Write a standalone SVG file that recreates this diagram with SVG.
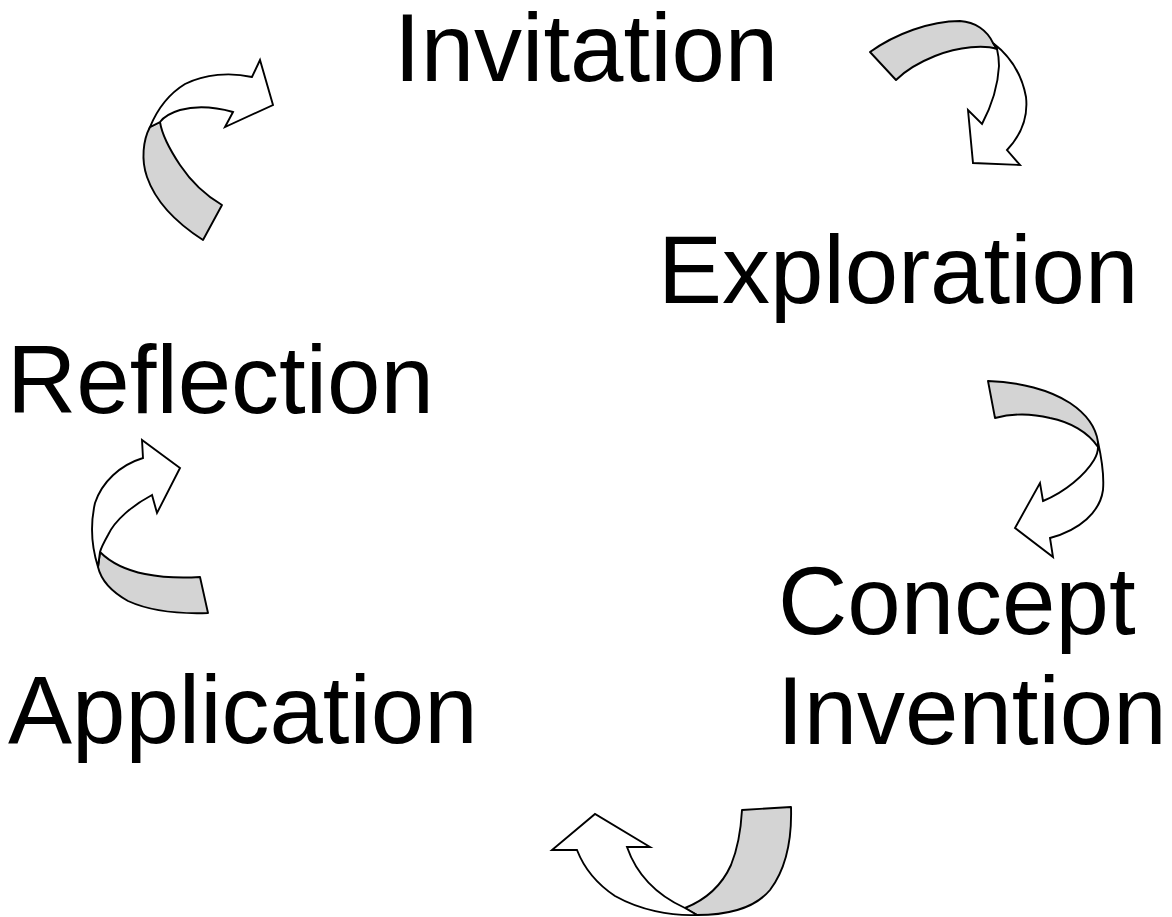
<svg xmlns="http://www.w3.org/2000/svg" width="1172" height="917" viewBox="0 0 1172 917">
  <style>
    .label { font-family: "Liberation Sans", Arial, sans-serif; font-size: 96px; fill: #000; }
    .back { fill: #d4d4d4; stroke: #000; stroke-width: 1.9; stroke-linejoin: round; }
    .front { fill: #fff; stroke: #000; stroke-width: 1.9; stroke-linejoin: miter; }
  </style>
  <rect width="1172" height="917" fill="#fff"/>

  <!-- stage labels -->
  <g id="invitation"><text class="label" x="394" y="81">Invitation</text></g>
  <g id="exploration"><text class="label" x="658" y="303">Exploration</text></g>
  <g id="reflection"><text class="label" x="7" y="413">Reflection</text></g>
  <g id="concept-invention">
    <text class="label" x="778" y="634">Concept</text>
    <text class="label" x="777" y="744">Invention</text>
  </g>
  <g id="application"><text class="label" x="8" y="743">Application</text></g>

  <!-- twisted curved arrows linking the stages -->
  <g id="connectors">
    <!-- Invitation to Exploration -->
    <g id="arrow-top-right">
      <path class="back" d="M870,52 C895,34 930,21 960,21 C975,22 987,30 993,43 L997,49 C985,45 960,46 935,56 C920,62 905,71 896,80 Z"/>
      <path class="front" d="M993,43 C1010,56 1022,75 1026,97 C1028,115 1024,132 1007,150 L1020,165 L973,163 L968,110 L982,124 C992,105 998,85 999,66 C999,58 998,53 997,49 Z"/>
    </g>
    <!-- Exploration to Concept Invention -->
    <g id="arrow-right">
      <path class="back" d="M988,381 C1020,382 1050,390 1070,403 C1088,415 1096,428 1098,442 L1098,447 C1088,432 1070,422 1050,418 C1030,413 1010,414 995,418 Z"/>
      <path class="front" d="M1098,442 C1102,460 1104,478 1103,490 C1100,512 1080,530 1050,538 L1053,557 L1015,528 L1040,483 L1043,501 C1065,492 1085,475 1094,460 C1097,455 1098,451 1098,447 Z"/>
    </g>
    <!-- Concept Invention to Application -->
    <g id="arrow-bottom">
      <path class="back" d="M742,810 L791,807 C792,840 785,870 770,890 C755,908 730,915 697,915 L685,908 C705,900 722,885 731,865 C738,848 741,828 742,810 Z"/>
      <path class="front" d="M697,915 C670,916 640,910 615,896 C597,884 584,868 577,850 L552,850 L595,814 L650,847 L627,847 C635,870 652,893 685,908 Z"/>
    </g>
    <!-- Application to Reflection -->
    <g id="arrow-left">
      <path class="back" d="M200,577 L208,613 C180,614 150,611 128,601 C112,592 101,580 98,567 L100,552 C110,562 125,570 145,574 C165,578 185,578 200,577 Z"/>
      <path class="front" d="M98,567 C92,548 90,525 95,503 C102,482 120,465 143,458 L142,440 L180,468 L157,513 L152,495 C133,505 115,520 108,535 C103,544 101,548 100,552 Z"/>
    </g>
    <!-- Reflection to Invitation -->
    <g id="arrow-top-left">
      <path class="back" d="M150,127 C143,140 141,160 147,177 C155,200 175,222 203,240 L222,205 C205,195 190,180 180,165 C170,150 162,135 160,122 Z"/>
      <path class="front" d="M150,127 C157,110 167,95 185,84 C205,74 230,72 252,77 L260,60 L273,105 L225,127 L233,112 C215,107 195,106 180,110 C170,113 163,118 160,122 Z"/>
    </g>
  </g>
</svg>
